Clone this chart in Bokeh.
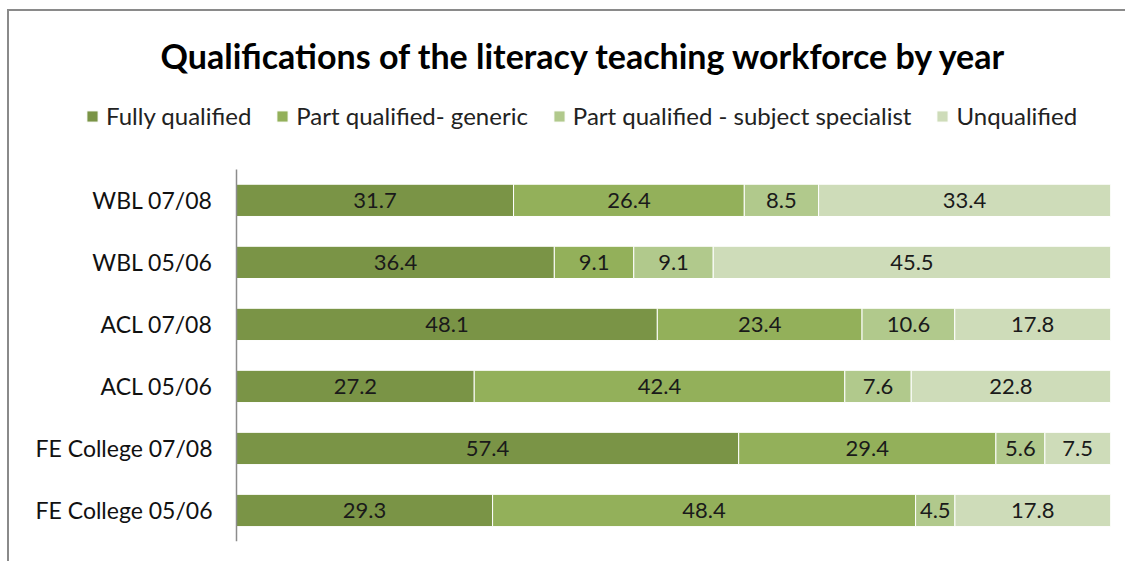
from bokeh.plotting import figure
from bokeh.models import (ColumnDataSource, Range1d, Legend, LegendItem,
                          FixedTicker)
from bokeh.core.properties import value
from bokeh.embed import file_html
from bokeh.resources import INLINE

categories = ["WBL 07/08", "WBL 05/06", "ACL 07/08", "ACL 05/06",
              "FE College 07/08", "FE College 05/06"]
fully = [31.7, 36.4, 48.1, 27.2, 57.4, 29.3]
part_generic = [26.4, 9.1, 23.4, 42.4, 29.4, 48.4]
part_specialist = [8.5, 9.1, 10.6, 7.6, 5.6, 4.5]
unqualified = [33.4, 45.5, 17.8, 22.8, 7.5, 17.8]
series_names = ["Fully qualified", "Part qualified- generic",
                "Part qualified - subject specialist", "Unqualified"]
colors = ["#7A9446", "#93B05A", "#B1C98C", "#CEDCB9"]

series = [fully, part_generic, part_specialist, unqualified]
keys = ["s0", "s1", "s2", "s3"]
n = len(categories)
ypos = [n - 1 - i for i in range(n)]  # first category on top

# 100% stacked: normalise each row
totals = [sum(s[i] for s in series) for i in range(n)]
data = {"y": ypos}
for k, s in zip(keys, series):
    data[k] = [v / t * 100 for v, t in zip(s, totals)]
src = ColumnDataSource(data)

# label positions
lx, ly, lt = [], [], []
for i in range(n):
    left = 0.0
    for k, s in zip(keys, series):
        w = data[k][i]
        lx.append(left + w / 2)
        ly.append(ypos[i])
        lt.append(f"{s[i]:.1f}")
        left += w
lab_src = ColumnDataSource(dict(x=lx, y=ly, t=lt))

FONT = "Lato"

# layout (page pixels)
FRAME_L, ZERO_X, FRAME_R = 20, 236, 1110
FRAME_T, AXIS_T, FRAME_B = 95, 168, 541
px_per_unit_x = (FRAME_R - ZERO_X) / 100.0
px_per_cat = (FRAME_B - AXIS_T) / n
x_start = -(ZERO_X - FRAME_L) / px_per_unit_x
y_end = -0.5 + (FRAME_B - FRAME_T) / px_per_cat

p = figure(width=1118, height=552, output_backend="svg", toolbar_location=None,
           x_range=Range1d(x_start, 100), y_range=Range1d(-0.5, y_end),
           min_border_left=FRAME_L - 9, min_border_right=1127 - FRAME_R,
           min_border_top=FRAME_T - 11, min_border_bottom=563 - FRAME_B)
p.styles = {"border-top": "2px solid #8a8a8a", "border-left": "2px solid #8a8a8a",
            "margin-left": "7px", "margin-top": "9px"}

rs = p.hbar_stack(keys, y="y", height=0.52, color=colors, source=src,
                  line_color="white", line_width=1)

p.text(x="x", y="y", text="t", source=lab_src, text_align="center",
       text_baseline="middle", text_font=value(FONT), text_font_size="22px",
       text_color="#1a1a1a")

p.xaxis.visible = False
p.xgrid.visible = False
p.ygrid.visible = False
p.outline_line_color = None

ax = p.yaxis[0]
ax.fixed_location = 0
ax.bounds = (-0.5, n - 0.5)
ax.ticker = FixedTicker(ticks=ypos)
ax.major_label_overrides = {y: c for y, c in zip(ypos, categories)}
ax.axis_line_color = "#8c8c8c"
ax.axis_line_width = 1.5
ax.major_tick_line_color = None
ax.minor_tick_line_color = None
ax.major_tick_out = 0
ax.major_tick_in = 0
ax.major_label_standoff = 24
ax.major_label_text_font = FONT
ax.major_label_text_font_size = "23px"
ax.major_label_text_color = "#111111"

p.title.text = "Qualifications of the literacy teaching workforce by year"
p.title.align = "left"
p.title.offset = 160 - FRAME_L
p.title.text_font = FONT
p.title.text_font_size = "34px"
p.title.text_font_style = "bold"
p.title.text_color = "#000000"
p.title.standoff = 42

legend = Legend(items=[LegendItem(label=nm, renderers=[r]) for nm, r in zip(series_names, rs)],
                orientation="horizontal", location=(85 - FRAME_L, FRAME_B - 130),
                label_text_font=FONT, label_text_font_size="24px",
                label_text_color="#222222", glyph_width=14, glyph_height=14,
                label_standoff=7, spacing=24, padding=0, margin=0,
                border_line_color=None, background_fill_alpha=0)
p.add_layout(legend, "center")

open("out.html", "w").write(file_html(p, INLINE))
